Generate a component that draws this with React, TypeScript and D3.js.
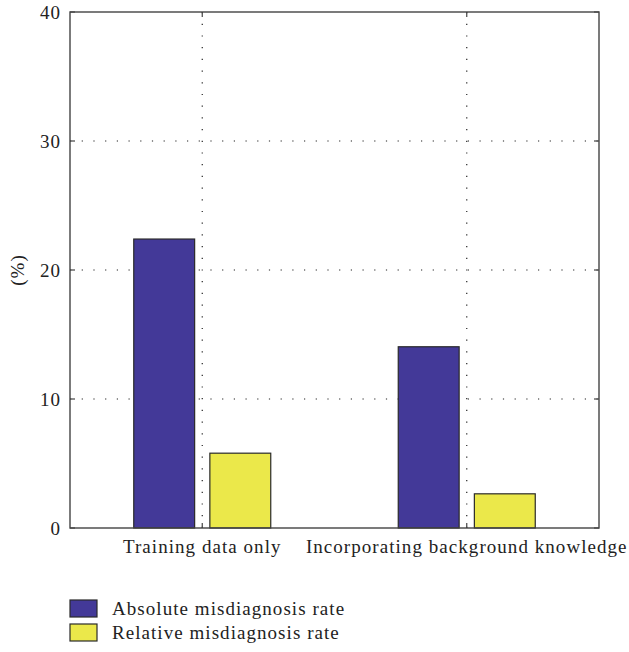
import { useEffect, useRef } from 'react'
import * as d3 from 'd3'

const categories = ['Training data only', 'Incorporating background knowledge']
const series = ['Absolute misdiagnosis rate', 'Relative misdiagnosis rate']
const absoluteRate = [22.4, 14.05]
const relativeRate = [5.8, 2.65]
const yTicks = [0, 10, 20, 30, 40]
const colors = ['#433998', '#ebe84a']

export default function App() {
  const ref = useRef<SVGSVGElement | null>(null)

  useEffect(() => {
    const svg = d3.select(ref.current)
    svg.selectAll('*').remove()

    const left = 70
    const right = 599
    const top = 12
    const bottom = 528
    const font = '"Liberation Serif", "DejaVu Serif", serif'

    const x = d3.scaleBand().domain(categories).range([left, right]).padding(0)
    const sub = d3.scaleBand().domain(series).range([-68.5, 68.5]).paddingInner(0.2)
    const y = d3.scaleLinear().domain([0, 40]).range([bottom, top])

    const values = [absoluteRate, relativeRate]

    // grid
    const grid = svg.append('g').attr('stroke', '#222').attr('stroke-width', 1.2).attr('stroke-dasharray', '1.2,10.5')
    yTicks.slice(1, -1).forEach((t) => {
      grid.append('line').attr('x1', left).attr('x2', right).attr('y1', y(t)).attr('y2', y(t))
    })
    categories.forEach((c) => {
      const cx = (x(c) as number) + x.bandwidth() / 2
      grid.append('line').attr('x1', cx).attr('x2', cx).attr('y1', top).attr('y2', bottom)
    })

    // bars
    categories.forEach((c, i) => {
      const cx = (x(c) as number) + x.bandwidth() / 2
      series.forEach((s, j) => {
        const v = values[j][i]
        svg
          .append('rect')
          .attr('x', cx + (sub(s) as number))
          .attr('y', y(v))
          .attr('width', sub.bandwidth())
          .attr('height', y(0) - y(v))
          .attr('fill', colors[j])
          .attr('stroke', '#2a2a2a')
          .attr('stroke-width', 1.2)
      })
    })

    // frame
    svg
      .append('rect')
      .attr('x', left)
      .attr('y', top)
      .attr('width', right - left)
      .attr('height', bottom - top)
      .attr('fill', 'none')
      .attr('stroke', '#444')
      .attr('stroke-width', 1.4)

    // ticks
    const ticks = svg.append('g').attr('stroke', '#444').attr('stroke-width', 1.2)
    yTicks.forEach((t) => {
      ticks.append('line').attr('x1', left).attr('x2', left + 5).attr('y1', y(t)).attr('y2', y(t))
      ticks.append('line').attr('x1', right).attr('x2', right - 5).attr('y1', y(t)).attr('y2', y(t))
    })
    categories.forEach((c) => {
      const cx = (x(c) as number) + x.bandwidth() / 2
      ticks.append('line').attr('x1', cx).attr('x2', cx).attr('y1', bottom).attr('y2', bottom - 5)
      ticks.append('line').attr('x1', cx).attr('x2', cx).attr('y1', top).attr('y2', top + 5)
    })

    const label = (sel: d3.Selection<SVGTextElement, unknown, null, undefined>) =>
      sel
        .attr('font-family', font)
        .attr('font-size', 19)
        .attr('letter-spacing', 1.05)
        .attr('fill', '#222')

    // labels
    yTicks.forEach((t) => {
      svg
        .append('text')
        .attr('x', left - 9)
        .attr('y', y(t))
        .attr('dy', '0.35em')
        .attr('text-anchor', 'end')
        .call(label)
        .text(t)
    })
    categories.forEach((c) => {
      const cx = (x(c) as number) + x.bandwidth() / 2
      svg
        .append('text')
        .attr('x', cx)
        .attr('y', bottom + 25)
        .attr('text-anchor', 'middle')
        .call(label)
        .text(c)
    })
    svg
      .append('text')
      .attr('transform', `translate(24,${y(20)}) rotate(-90)`)
      .attr('text-anchor', 'middle')
      .call(label)
      .text('(%)')

    // legend
    series.forEach((s, j) => {
      const ly = 600 + j * 24
      svg
        .append('rect')
        .attr('x', 70)
        .attr('y', ly)
        .attr('width', 27)
        .attr('height', 17)
        .attr('fill', colors[j])
        .attr('stroke', '#2a2a2a')
        .attr('stroke-width', 1.2)
      svg
        .append('text')
        .attr('x', 112)
        .attr('y', ly + 15)
        .call(label)
        .text(s)
    })
  }, [])

  return (
    <div style={{ position: 'absolute', left: 0, top: 0 }}>
      <svg ref={ref} width={629} height={652} style={{ display: 'block', background: '#fff' }} />
    </div>
  )
}
